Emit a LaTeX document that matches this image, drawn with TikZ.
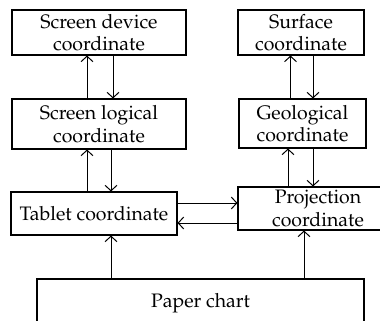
\documentclass[tikz,border=0pt]{standalone}
\usepackage[T1]{fontenc}
\usepackage{mathpazo}
\usetikzlibrary{arrows.meta,calc}
\tikzset{
  box/.style={draw, line width=1.1pt, inner sep=0pt, align=center,
    font=\fontsize{19.5}{22.5}\selectfont},
  arr/.style={line width=1pt, -{Straight Barb[length=5.5pt,width=12pt,line width=1pt]}},
}
\begin{document}
\begin{tikzpicture}[x=1pt,y=-1pt]
\path[use as bounding box] (0,0) rectangle (380,321);
\clip (0,0) rectangle (380,321);
\node[box, minimum width=174pt, minimum height=45pt] (sd) at (99,32.5) {Screen device\\coordinate};
\node[box, minimum width=174pt, minimum height=50pt] (sl) at (99,124) {Screen logical\\coordinate};
\node[box, minimum width=166pt, minimum height=43pt] (tab) at (94,213.5) {Tablet coordinate};
\node[box, minimum width=126pt, minimum height=45pt] (sf) at (301,32.5) {Surface\\coordinate};
\node[box, minimum width=127pt, minimum height=49pt] (geo) at (302.5,123.5) {Geological\\coordinate};
\node[box, minimum width=160pt, minimum height=43pt] (proj) at (318,208.5) {Projection\\coordinate};
\node[box, minimum width=327pt, minimum height=48pt] (pap) at (200.5,303) {Paper chart};
% left column
\draw[arr] ([xshift=-12pt]sl.north) -- ([xshift=-12pt]sl.north |- sd.south);
\draw[arr] ([xshift=14pt]sd.south) -- ([xshift=14pt]sd.south |- sl.north);
\draw[arr] ([xshift=-7pt]tab.north) -- ([xshift=-7pt]tab.north |- sl.south);
\draw[arr] ([xshift=12pt]sl.south) -- ([xshift=12pt]sl.south |- tab.north);
% right column
\draw[arr] ([xshift=-12pt]geo.north) -- ([xshift=-12pt]geo.north |- sf.south);
\draw[arr] ([xshift=12pt]sf.south) -- ([xshift=12pt]sf.south |- geo.north);
\draw[arr] ([xshift=-30pt]proj.north) -- ([xshift=-30pt]proj.north |- geo.south);
\draw[arr] ([xshift=10.5pt]geo.south) -- ([xshift=10.5pt]geo.south |- proj.north);
% horizontal
\draw[arr] ([yshift=10.5pt]tab.east) -- ([yshift=10.5pt]tab.east -| proj.west);
\draw[arr] ([yshift=-14.5pt]proj.west) -- ([yshift=-14.5pt]proj.west -| tab.east);
% from paper chart
\draw[arr] ([xshift=17pt]tab.south |- pap.north) -- ([xshift=17pt]tab.south);
\draw[arr] ([xshift=-14pt]proj.south |- pap.north) -- ([xshift=-14pt]proj.south);
\end{tikzpicture}
\end{document}
